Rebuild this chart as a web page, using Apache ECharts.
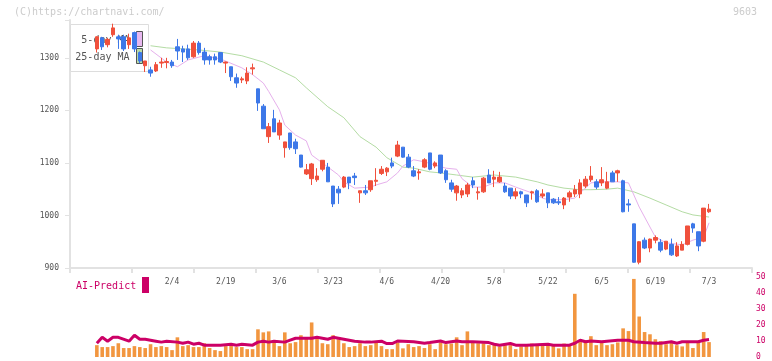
<!DOCTYPE html>
<html>
<head>
<meta charset="utf-8">
<title>9603</title>
<script src="https://cdn.jsdelivr.net/npm/echarts@6/dist/echarts.min.js"></script>
<style>
    html, body { margin: 0; padding: 0; background: #fff; }
    #main { width: 772px; height: 361px; }
</style>
</head>
<body>
<div id="main"></div>
<script>
// 日付 (1/15 - 7/3)
var dates = [
    "1/15", "1/16", "1/19", "1/20", "1/21", "1/22", "1/23", "1/26", "1/27", "1/28", "1/29", "1/30",
    "2/2", "2/3", "2/4", "2/5", "2/6", "2/9", "2/10", "2/12", "2/13", "2/16", "2/17", "2/18", "2/19",
    "2/20", "2/24", "2/25", "2/26", "2/27",
    "3/2", "3/3", "3/4", "3/5", "3/6", "3/9", "3/10", "3/11", "3/12", "3/13", "3/16", "3/17", "3/18",
    "3/19", "3/23", "3/24", "3/25", "3/26", "3/27", "3/30", "3/31",
    "4/1", "4/2", "4/3", "4/6", "4/7", "4/8", "4/9", "4/10", "4/13", "4/14", "4/15", "4/16", "4/17",
    "4/20", "4/21", "4/22", "4/23", "4/24", "4/27", "4/28", "4/30",
    "5/1", "5/7", "5/8", "5/11", "5/12", "5/13", "5/14", "5/15", "5/18", "5/19", "5/20", "5/21", "5/22",
    "5/25", "5/26", "5/27", "5/28", "5/29",
    "6/1", "6/2", "6/3", "6/4", "6/5", "6/8", "6/9", "6/10", "6/11", "6/12", "6/15", "6/16", "6/17",
    "6/18", "6/19", "6/22", "6/23", "6/24", "6/25", "6/26", "6/29", "6/30",
    "7/1", "7/2", "7/3"
];
var tickLabels = ["2/4", "2/19", "3/6", "3/23", "4/6", "4/20", "5/8", "5/22", "6/5", "6/19", "7/3"];

// 四本値
var openP = [
    1317, 1338, 1325, 1344, 1340, 1340, 1325, 1348, 1310, 1285,
    1277, 1275, 1290, 1291, 1292, 1321, 1317, 1317, 1302, 1328,
    1311, 1302, 1302, 1310, 1290, 1283, 1262, 1258, 1256, 1279,
    1241, 1208, 1150, 1184, 1153, 1129, 1157, 1140, 1115, 1079,
    1070, 1068, 1088, 1092, 1056, 1050, 1054, 1073, 1075, 1043,
    1047, 1049, 1065, 1080, 1083, 1100, 1113, 1130, 1111, 1085,
    1081, 1092, 1119, 1094, 1115, 1085, 1062, 1043, 1039, 1041,
    1066, 1043, 1045, 1077, 1069, 1064, 1056, 1052, 1037, 1045,
    1039, 1043, 1047, 1037, 1043, 1031, 1026, 1020, 1035, 1041,
    1041, 1056, 1068, 1064, 1062, 1052, 1081, 1081, 1066, 1022,
    984, 911, 953, 938, 953, 949, 936, 945, 923, 934,
    945, 984, 969, 951, 1007
];
var closeP = [
    1340, 1321, 1335, 1357, 1336, 1317, 1338, 1317, 1294, 1294,
    1271, 1287, 1292, 1293, 1285, 1313, 1311, 1300, 1328, 1310,
    1296, 1296, 1296, 1292, 1292, 1264, 1252, 1260, 1271, 1281,
    1214, 1165, 1169, 1159, 1176, 1140, 1129, 1127, 1092, 1087,
    1098, 1075, 1105, 1064, 1022, 1043, 1073, 1062, 1072, 1047,
    1043, 1066, 1067, 1088, 1090, 1094, 1134, 1111, 1092, 1075,
    1083, 1106, 1088, 1100, 1081, 1068, 1050, 1056, 1047, 1058,
    1058, 1045, 1071, 1062, 1073, 1073, 1045, 1037, 1045, 1041,
    1024, 1045, 1026, 1041, 1024, 1024, 1024, 1033, 1043, 1049,
    1062, 1069, 1075, 1054, 1068, 1064, 1064, 1085, 1007, 1020,
    911, 950, 938, 955, 958, 934, 951, 925, 942, 945,
    980, 976, 942, 1014, 1012
];
var lowP = [
    1310, 1315, 1320, 1340, 1317, 1313, 1317, 1311, 1290, 1273,
    1264, 1273, 1281, 1280, 1281, 1296, 1292, 1296, 1300, 1306,
    1287, 1287, 1287, 1290, 1271, 1256, 1243, 1252, 1250, 1268,
    1199, 1165, 1138, 1159, 1144, 1110, 1125, 1117, 1091, 1077,
    1058, 1064, 1084, 1064, 1016, 1022, 1052, 1050, 1058, 1024,
    1039, 1045, 1056, 1077, 1075, 1090, 1111, 1110, 1090, 1073,
    1068, 1090, 1086, 1090, 1079, 1062, 1045, 1028, 1033, 1035,
    1052, 1030, 1043, 1062, 1054, 1062, 1043, 1031, 1031, 1033,
    1016, 1030, 1024, 1033, 1014, 1022, 1020, 1012, 1026, 1035,
    1033, 1052, 1064, 1050, 1056, 1050, 1064, 1064, 1006, 1007,
    910, 907, 936, 930, 947, 930, 934, 923, 921, 934,
    943, 967, 932, 949, 1005
];
var highP = [
    1341, 1340, 1338, 1365, 1344, 1344, 1346, 1350, 1312, 1294,
    1283, 1292, 1300, 1300, 1296, 1336, 1323, 1325, 1332, 1332,
    1319, 1306, 1308, 1311, 1293, 1283, 1270, 1264, 1282, 1289,
    1241, 1212, 1176, 1201, 1182, 1140, 1157, 1146, 1115, 1098,
    1100, 1090, 1105, 1100, 1056, 1056, 1075, 1073, 1081, 1047,
    1058, 1066, 1090, 1094, 1092, 1110, 1142, 1130, 1117, 1094,
    1088, 1109, 1119, 1103, 1115, 1088, 1068, 1058, 1052, 1062,
    1073, 1054, 1073, 1088, 1085, 1083, 1062, 1052, 1052, 1047,
    1039, 1047, 1050, 1050, 1043, 1033, 1035, 1035, 1047, 1058,
    1069, 1075, 1094, 1069, 1092, 1083, 1085, 1087, 1068, 1031,
    984, 951, 958, 956, 962, 955, 951, 956, 949, 951,
    980, 986, 969, 1014, 1022
];

// 移動平均 [日付番号, 値]
var ma5 = [
    [10, 1315], [13, 1292], [15, 1283], [17, 1296], [20, 1304], [23, 1298], [27, 1281], [29, 1268],
    [31, 1252], [32, 1236], [34, 1201], [35, 1172], [37, 1153], [39, 1142], [40, 1115], [42, 1100],
    [45, 1077], [46, 1064], [48, 1052], [51, 1054], [52, 1058], [54, 1064], [56, 1081], [57, 1094],
    [59, 1106], [61, 1102], [63, 1096], [65, 1090], [67, 1088], [68, 1070], [70, 1054], [72, 1054],
    [74, 1062], [76, 1062], [78, 1054], [81, 1043], [83, 1033], [84, 1030], [87, 1030], [89, 1033],
    [90, 1043], [92, 1062], [94, 1064], [97, 1064], [99, 1062], [100, 1039], [101, 1016], [103, 978],
    [104, 959], [106, 948], [109, 944], [111, 953], [113, 959], [114, 986]
];
var ma25 = [
    [10, 1323], [13, 1319], [19, 1315], [23, 1311], [27, 1304], [31, 1292], [34, 1277], [37, 1262],
    [39, 1243], [43, 1207], [46, 1186], [49, 1150], [52, 1130], [54, 1110], [57, 1092], [59, 1090],
    [62, 1083], [64, 1081], [67, 1077], [70, 1073], [74, 1077], [78, 1073], [82, 1064], [84, 1058],
    [87, 1052], [90, 1049], [92, 1049], [95, 1050], [97, 1052], [100, 1045], [103, 1033], [106, 1020],
    [109, 1007], [111, 1001], [114, 997]
];

// 出来高
var volume = [
    7.4, 6.2, 6.2, 6.8, 8.6, 5.6, 5.6, 6.8, 6.2, 5.6,
    8.0, 6.2, 6.8, 6.2, 4.3, 12.3, 6.8, 7.4, 6.2, 6.2,
    8.6, 5.6, 4.3, 3.7, 6.8, 7.4, 6.2, 6.2, 4.9, 4.9,
    17.3, 15.4, 16.0, 9.3, 6.8, 15.4, 8.6, 9.3, 13.6, 11.7,
    21.6, 11.7, 8.6, 8.0, 13.6, 11.1, 8.6, 6.2, 6.8, 8.6,
    6.8, 7.4, 9.3, 6.8, 4.9, 4.9, 9.1, 5.4, 8.0, 6.2,
    6.8, 5.6, 8.0, 4.9, 9.1, 8.0, 8.4, 12.3, 7.4, 16.0,
    9.1, 8.6, 8.6, 7.4, 8.0, 6.6, 7.4, 7.4, 4.9, 6.6,
    7.4, 8.4, 8.0, 7.4, 8.0, 7.4, 5.4, 8.4, 7.4, 39.5,
    10.5, 10.5, 13.0, 7.4, 9.1, 7.4, 8.0, 9.1, 17.9, 16.2,
    48.8, 25.3, 15.6, 14.2, 11.1, 9.9, 8.0, 9.9, 7.4, 6.6,
    9.1, 5.6, 9.9, 15.6, 9.3
];

// AI-Predict [日付番号, 値]
var aiPredict = [
    [0, 8.6], [1, 12.3], [2, 9.9], [3, 12.3], [4, 12.3], [6, 9.9], [7, 13.6], [8, 11.1], [9, 11.1],
    [11, 9.9], [12, 9.3], [13, 9.9], [15, 9.3], [16, 8.6], [17, 9.3], [18, 8.0], [19, 8.6], [20, 7.4],
    [23, 7.4], [25, 8.0], [26, 7.4], [27, 8.0], [29, 7.4], [30, 9.3], [31, 9.9], [32, 9.3], [33, 9.9],
    [35, 9.3], [36, 10.5], [37, 11.7], [40, 11.7], [41, 12.3], [42, 11.7], [43, 11.1], [44, 12.3],
    [46, 11.1], [47, 10.5], [48, 9.9], [50, 9.3], [51, 9.3], [53, 9.9], [54, 8.4], [55, 8.4], [56, 10],
    [59, 9.5], [61, 8.6], [62, 9], [64, 10], [65, 9], [67, 10], [68, 9.5], [70, 9.5], [73, 9], [74, 8],
    [75, 7.4], [77, 8.4], [78, 7.4], [80, 7.4], [84, 8], [85, 7.4], [88, 7.4], [89, 8.6], [90, 10.5],
    [91, 9.5], [92, 10], [94, 9.5], [97, 10.5], [99, 10.5], [100, 9.5], [102, 9], [104, 8.6],
    [105, 8.6], [107, 9.5], [108, 8.6], [109, 9.5], [112, 9.5], [113, 10.5], [114, 10.9]
];

(function () {
    var myCharts = echarts.init(document.getElementById("main"));
    var mono = '"DejaVu Sans Mono", monospace';

    // 左右の余白 (空のカテゴリ)
    var lead = 5;
    var tail = 8;
    var cats = [];
    var i;
    for (i = 0; i < lead; i++) cats.push("");
    cats = cats.concat(dates);
    for (i = 0; i < tail; i++) cats.push(" ");

    var candles = [];
    var bars = [];
    for (i = 0; i < dates.length; i++) {
        candles.push([i + lead, openP[i], closeP[i], lowP[i], highP[i]]);
        bars.push([i + lead, volume[i]]);
    }
    function shift(list) {
        return list.map(function (p) { return [p[0] + lead, p[1]]; });
    }

    var option = {
        animation: false,
        backgroundColor: "#fff",
        grid: [
            { left: 70, right: 20, top: 20, height: 248 },
            { left: 70, right: 20, top: 277, height: 81 }
        ],
        xAxis: [{
            type: "category",
            gridIndex: 0,
            data: cats,
            boundaryGap: false,
            position: "bottom",
            axisLine: { show: false },
            axisTick: { show: false },
            splitLine: { show: false },
            axisLabel: {
                interval: function (index, value) {
                    return tickLabels.indexOf(value) >= 0;
                },
                color: "#555",
                fontSize: 8,
                fontFamily: mono,
                margin: 10
            }
        }, {
            // 目盛り線だけの軸
            type: "value",
            gridIndex: 0,
            min: 0,
            max: 11,
            interval: 1,
            position: "bottom",
            axisLine: { show: true, lineStyle: { color: "#e2e2e2", width: 2 } },
            axisTick: { show: true, length: 5, lineStyle: { color: "#e2e2e2", width: 2 } },
            axisLabel: { show: false },
            splitLine: { show: false }
        }, {
            type: "category",
            gridIndex: 1,
            data: cats,
            boundaryGap: false,
            show: false
        }],
        yAxis: [{
            type: "value",
            gridIndex: 0,
            min: 900,
            max: 1372,
            interval: 100,
            axisLine: { show: true, lineStyle: { color: "#e2e2e2", width: 2 } },
            axisTick: { show: true, length: 5, lineStyle: { color: "#e2e2e2", width: 1 } },
            splitLine: { show: false },
            axisLabel: {
                color: "#555",
                fontSize: 8,
                fontFamily: mono,
                margin: 11,
                formatter: function (v) { return v > 1300 ? "" : v; }
            }
        }, {
            type: "value",
            gridIndex: 1,
            position: "right",
            min: 0,
            max: 50,
            interval: 10,
            axisLine: { show: false },
            axisTick: { show: false },
            splitLine: { show: false },
            axisLabel: {
                color: "#cc0066",
                fontSize: 8,
                fontFamily: mono,
                margin: 4
            }
        }],
        graphic: [
            { type: "text", left: 14, top: 7, z: 5, style: { text: "(C)https://chartnavi.com/", font: "10px " + mono, fill: "#cccccc" } },
            { type: "text", right: 15, top: 7, z: 5, style: { text: "9603", font: "10px " + mono, fill: "#cccccc" } },
            // 凡例
            { type: "rect", z: 1, shape: { x: 70.5, y: 24.5, width: 78, height: 47 }, style: { fill: "#fff", stroke: "#dddddd", lineWidth: 1 } },
            { type: "text", z: 1, x: 129.5, y: 40, style: { text: "5-day MA", font: "10px " + mono, fill: "#555", align: "right", verticalAlign: "middle" } },
            { type: "text", z: 1, x: 129.5, y: 57, style: { text: "25-day MA", font: "10px " + mono, fill: "#555", align: "right", verticalAlign: "middle" } },
            { type: "rect", z: 1, shape: { x: 136.5, y: 31.5, width: 6, height: 15 }, style: { fill: "#e8b8f0", stroke: "#555", lineWidth: 1 } },
            { type: "rect", z: 1, shape: { x: 136.5, y: 48.5, width: 6, height: 15 }, style: { fill: "#b8dca8", stroke: "#555", lineWidth: 1 } },
            { type: "text", z: 5, x: 76, y: 286, style: { text: "AI-Predict", font: "10px " + mono, fill: "#cc0066", verticalAlign: "middle" } },
            { type: "rect", z: 5, shape: { x: 142, y: 277, width: 7, height: 16 }, style: { fill: "#cc0066" } }
        ],
        series: [{
            name: "25-day MA",
            type: "line",
            xAxisIndex: 0,
            yAxisIndex: 0,
            z: 0,
            data: shift(ma25),
            showSymbol: false,
            lineStyle: { color: "#b4dca4", width: 1 }
        }, {
            name: "5-day MA",
            type: "line",
            xAxisIndex: 0,
            yAxisIndex: 0,
            z: 0,
            data: shift(ma5),
            showSymbol: false,
            lineStyle: { color: "#e6b0ec", width: 1 }
        }, {
            name: "9603",
            type: "candlestick",
            xAxisIndex: 0,
            yAxisIndex: 0,
            z: 3,
            barWidth: 4,
            encode: { x: 0, y: [1, 2, 3, 4] },
            data: candles,
            itemStyle: {
                color: "#f0503c",
                color0: "#3d78e8",
                borderColor: "#f0503c",
                borderColor0: "#3d78e8",
                borderWidth: 1
            }
        }, {
            name: "Volume",
            type: "bar",
            xAxisIndex: 2,
            yAxisIndex: 1,
            barWidth: 3.6,
            data: bars,
            itemStyle: { color: "#f2963f" }
        }, {
            name: "AI-Predict",
            type: "line",
            xAxisIndex: 2,
            yAxisIndex: 1,
            z: 4,
            data: shift(aiPredict),
            showSymbol: false,
            lineStyle: { color: "#cc0066", width: 3 }
        }]
    };

    myCharts.setOption(option);
})();
</script>
</body>
</html>
